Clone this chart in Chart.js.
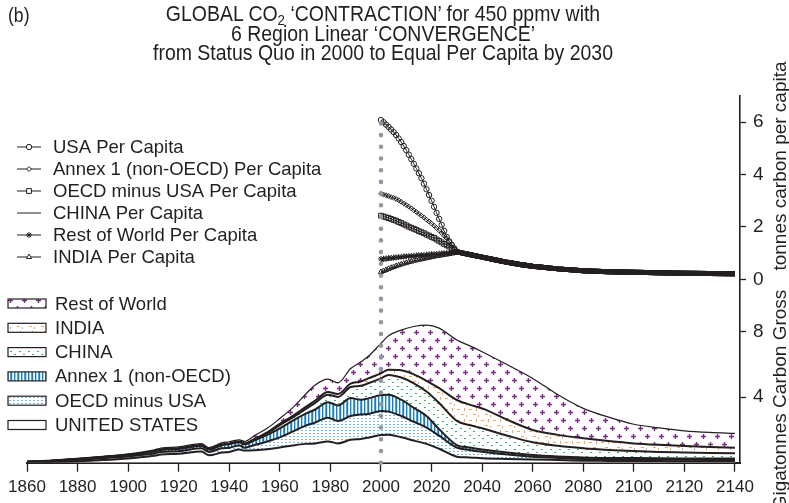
<!DOCTYPE html>
<html>
<head>
<meta charset="utf-8">
<script src="https://cdn.jsdelivr.net/npm/chart.js@4.4.1/dist/chart.umd.min.js"></script>
<style>
  body { margin: 0; background: #fff; }
  #wrap { position: relative; width: 789px; height: 503px; }
  #graphique { position: absolute; left: 0; top: 0; }
  #panel { position: absolute; left: 8px; top: 4px; color: #231f20; transform-origin: 0 0; transform: scaleX(0.88);
    font: 20px "Liberation Sans", Arial, sans-serif; }
  #title { position: absolute; left: 83px; top: 4px; width: 600px; text-align: center; color: #231f20;
    transform: scaleX(0.885); transform-origin: 300px 0;
    font: 22px/19.5px "Liberation Sans", Arial, sans-serif; }
  #title sub { font-size: 15px; line-height: 0; vertical-align: -4px; }
</style>
</head>
<body>
<div id="wrap">
  <canvas id="graphique" width="789" height="503"></canvas>
  <div id="panel">(b)</div>
  <div id="title">GLOBAL CO<sub>2</sub> ‘CONTRACTION’ for 450 ppmv with<br>6 Region Linear ‘CONVERGENCE’<br>from Status Quo in 2000 to Equal Per Capita by 2030</div>
</div>
<script>
// Données (GtC par an, bas)
const years = [1860, 1870, 1880, 1890, 1900, 1910, 1913, 1920, 1929, 1932,
  1937, 1940, 1944, 1946, 1950, 1955, 1960, 1965, 1970, 1974,
  1979, 1983, 1988, 1992, 1995, 2000, 2003, 2008, 2013, 2018,
  2023, 2030, 2035, 2040, 2050, 2060, 2070, 2080, 2090, 2100,
  2110, 2120, 2130, 2140];
const usGross = [0.02, 0.05, 0.09, 0.16, 0.26, 0.42, 0.50, 0.55, 0.68, 0.45,
  0.62, 0.66, 0.80, 0.74, 0.76, 0.82, 0.93, 1.05, 1.15, 1.18,
  1.30, 1.18, 1.40, 1.45, 1.53, 1.69, 1.71, 1.55, 1.35, 1.15,
  0.85, 0.37, 0.32, 0.27, 0.23, 0.20, 0.16, 0.12, 0.11, 0.10,
  0.10, 0.09, 0.09, 0.09];
const oecdGross = [0.03, 0.05, 0.08, 0.11, 0.12, 0.14, 0.16, 0.15, 0.20, 0.21,
  0.26, 0.26, 0.25, 0.18, 0.32, 0.48, 0.62, 0.85, 1.10, 1.27,
  1.45, 1.37, 1.45, 1.50, 1.45, 1.47, 1.41, 1.30, 1.15, 1.00,
  0.80, 0.55, 0.46, 0.40, 0.27, 0.17, 0.13, 0.11, 0.10, 0.10,
  0.09, 0.09, 0.08, 0.08];
const annex1Gross = [0.01, 0.02, 0.04, 0.06, 0.08, 0.11, 0.12, 0.14, 0.15, 0.14,
  0.18, 0.21, 0.20, 0.20, 0.28, 0.40, 0.55, 0.65, 0.73, 0.80,
  0.95, 0.95, 1.10, 0.90, 0.95, 0.97, 1.03, 1.00, 0.85, 0.70,
  0.40, 0.16, 0.15, 0.14, 0.12, 0.10, 0.09, 0.09, 0.08, 0.08,
  0.08, 0.08, 0.08, 0.08];
const chinaGross = [0.005, 0.005, 0.01, 0.01, 0.01, 0.01, 0.01, 0.01, 0.02, 0.02,
  0.02, 0.02, 0.02, 0.03, 0.06, 0.10, 0.20, 0.20, 0.27, 0.40,
  0.45, 0.52, 0.67, 0.85, 0.92, 1.02, 1.21, 1.35, 1.50, 1.50,
  1.60, 1.47, 1.37, 1.29, 1.03, 0.78, 0.65, 0.56, 0.49, 0.43,
  0.39, 0.37, 0.35, 0.32];
const indiaGross = [0.005, 0.005, 0.01, 0.01, 0.02, 0.02, 0.02, 0.03, 0.03, 0.03,
  0.03, 0.03, 0.03, 0.03, 0.04, 0.05, 0.08, 0.10, 0.13, 0.15,
  0.17, 0.18, 0.21, 0.25, 0.30, 0.31, 0.32, 0.45, 0.55, 0.65,
  0.90, 1.28, 1.25, 1.22, 0.97, 0.75, 0.67, 0.61, 0.54, 0.47,
  0.43, 0.39, 0.36, 0.35];
const rowGross = [0.01, 0.02, 0.03, 0.04, 0.05, 0.07, 0.08, 0.09, 0.09, 0.07,
  0.10, 0.10, 0.10, 0.12, 0.20, 0.25, 0.32, 0.50, 0.77, 0.95,
  0.78, 0.68, 0.92, 1.20, 1.35, 1.83, 2.07, 2.45, 2.92, 3.40,
  3.67, 3.66, 3.60, 3.46, 3.36, 3.15, 2.45, 1.83, 1.46, 1.17,
  1.04, 0.93, 0.89, 0.87];

// Par habitant (tC), 2000-2030 chaque année puis valeur commune
const pcYears = [2000, 2001, 2002, 2003, 2004, 2005, 2006, 2007, 2008, 2009,
  2010, 2011, 2012, 2013, 2014, 2015, 2016, 2017, 2018, 2019,
  2020, 2021, 2022, 2023, 2024, 2025, 2026, 2027, 2028, 2029, 2030,
  2035, 2040, 2045, 2050, 2055, 2060, 2070, 2080, 2090, 2100, 2110, 2120, 2130, 2140];
const convergedPc = [0.95, 0.85, 0.75, 0.65, 0.57, 0.50, 0.40, 0.33, 0.29, 0.27, 0.25, 0.23, 0.22, 0.21];
const usaPc = [6.08, 6.00, 5.91, 5.82, 5.72, 5.62, 5.51, 5.38, 5.24, 5.09,
  4.93, 4.76, 4.59, 4.41, 4.23, 4.05, 3.86, 3.65, 3.44, 3.22,
  3.00, 2.77, 2.54, 2.31, 2.08, 1.85, 1.62, 1.45, 1.32, 1.18, 1.05];
const annex1Pc = [3.27, 3.24, 3.21, 3.18, 3.14, 3.11, 3.07, 3.02, 2.96, 2.90,
  2.84, 2.78, 2.71, 2.64, 2.57, 2.50, 2.43, 2.36, 2.28, 2.21,
  2.13, 2.05, 1.96, 1.87, 1.77, 1.67, 1.56, 1.45, 1.33, 1.20, 1.05];
const oecdPc = [2.43, 2.40, 2.37, 2.34, 2.31, 2.27, 2.24, 2.19, 2.15, 2.10,
  2.06, 2.01, 1.97, 1.93, 1.89, 1.84, 1.80, 1.76, 1.71, 1.67,
  1.62, 1.58, 1.52, 1.47, 1.41, 1.35, 1.30, 1.25, 1.19, 1.12, 1.05];
const chinaPc = [0.68, 0.70, 0.71, 0.73, 0.74, 0.76, 0.77, 0.79, 0.80, 0.81,
  0.83, 0.84, 0.85, 0.86, 0.87, 0.89, 0.90, 0.91, 0.92, 0.93,
  0.94, 0.95, 0.96, 0.97, 0.98, 0.99, 1.00, 1.01, 1.02, 1.03, 1.05];
const rowPc = [0.78, 0.79, 0.80, 0.81, 0.82, 0.83, 0.84, 0.85, 0.86, 0.87,
  0.88, 0.88, 0.89, 0.90, 0.91, 0.92, 0.92, 0.93, 0.94, 0.95,
  0.96, 0.96, 0.97, 0.98, 0.99, 0.99, 1.00, 1.01, 1.02, 1.03, 1.05];
const indiaPc = [0.28, 0.32, 0.36, 0.40, 0.44, 0.47, 0.51, 0.54, 0.57, 0.60,
  0.63, 0.66, 0.68, 0.71, 0.73, 0.75, 0.77, 0.79, 0.81, 0.83,
  0.85, 0.87, 0.89, 0.90, 0.92, 0.94, 0.95, 0.97, 0.99, 1.02, 1.05];

const xTicks = [1860, 1880, 1900, 1920, 1940, 1960, 1980, 2000, 2020, 2040, 2060, 2080, 2100, 2120, 2140];
const pcTicks = [0, 2, 4, 6];
const grossTicks = [4, 8];
const startYear = 2000;
const convergeYear = 2030;

const ink = '#231f20';
const sans = '"Liberation Sans", Arial, sans-serif';

function makePattern(w, h, draw) {
    const c = document.createElement('canvas');
    c.width = w; c.height = h;
    const g = c.getContext('2d');
    g.fillStyle = '#fff';
    g.fillRect(0, 0, w, h);
    draw(g);
    return g.createPattern(c, 'repeat');
}

const rowFill = makePattern(14, 16, g => {
    g.strokeStyle = '#7b2a88'; g.lineWidth = 1.4;
    [[3.5, 4.5], [10.5, 12.5]].forEach(([x, y]) => {
        g.beginPath();
        g.moveTo(x - 2.5, y); g.lineTo(x + 2.5, y);
        g.moveTo(x, y - 2.5); g.lineTo(x, y + 2.5);
        g.stroke();
    });
});
const indiaFill = makePattern(12, 11, g => {
    g.fillStyle = '#f5a45a';
    g.fillRect(1, 2, 3, 1); g.fillRect(8, 1, 1, 3); g.fillRect(5, 7, 3, 1); g.fillRect(10, 8, 1, 2);
});
const chinaFill = makePattern(9, 7, g => {
    g.fillStyle = '#35b06a';
    g.fillRect(1, 1, 2, 1); g.fillRect(5, 4, 2, 1);
});
const annex1Fill = makePattern(7, 2, g => {
    ['#1b7db6', '#9fd0ee', '#ffffff', '#4fa3d4', '#1b7db6', '#c5e3f5', '#ffffff'].forEach((col, i) => {
        g.fillStyle = col; g.fillRect(i, 0, 1, 2);
    });
});
const oecdFill = makePattern(4, 3, g => {
    g.fillStyle = '#7db8e3';
    g.fillRect(1, 1, 2, 1);
});

function grossDataset(label, values, fillStyle, width, fill) {
    return {
        label: label, yAxisID: 'yBot', order: 1,
        data: years.map((yr, i) => ({ x: yr, y: values[i] })),
        borderColor: ink, borderWidth: width, backgroundColor: fillStyle,
        fill: fill, pointRadius: 0, cubicInterpolationMode: 'monotone'
    };
}

function pcDataset(label, values, style, radius) {
    const all = values.concat(convergedPc);
    return {
        label: label, yAxisID: 'yTop', order: 0, markerStyle: style, markerRadius: radius,
        data: pcYears.map((yr, i) => ({ x: yr, y: all[i] })),
        borderColor: ink, borderWidth: 1, fill: false,
        segment: { borderWidth: c => (c.p0.parsed.x >= convergeYear ? 5 : 1) },
        pointStyle: style || 'circle',
        pointRadius: c => (style && c.raw && c.raw.x <= convergeYear ? radius : 0),
        pointBorderColor: ink, pointBackgroundColor: 'rgba(255,255,255,0)', pointBorderWidth: 1
    };
}

const grossSets = [
    grossDataset('UNITED STATES', usGross, '#ffffff', 2, 'origin'),
    grossDataset('OECD minus USA', oecdGross, oecdFill, 2, '-1'),
    grossDataset('Annex 1 (non-OECD)', annex1Gross, annex1Fill, 2, '-1'),
    grossDataset('CHINA', chinaGross, chinaFill, 2, '-1'),
    grossDataset('INDIA', indiaGross, indiaFill, 2, '-1'),
    grossDataset('Rest of World', rowGross, rowFill, 1.2, '-1')
];
const pcSets = [
    pcDataset('USA Per Capita', usaPc, 'circle', 2.7),
    pcDataset('Annex 1 (non-OECD) Per Capita', annex1Pc, 'rectRot', 2.4),
    pcDataset('OECD minus USA Per Capita', oecdPc, 'rect', 3.4),
    pcDataset('CHINA Per Capita', chinaPc, null, 0),
    pcDataset('Rest of World Per Capita', rowPc, 'star', 3),
    pcDataset('INDIA Per Capita', indiaPc, 'triangle', 3)
];

const decor = {
    id: 'decor',
    afterDatasetsDraw(chart) {
        const { ctx, scales: { x, yTop } } = chart;
        const px = x.getPixelForValue(startYear);
        ctx.save();
        ctx.strokeStyle = '#8e98a2';
        ctx.lineWidth = 4.6;
        ctx.lineCap = 'round';
        ctx.setLineDash([0, 11.7]);
        ctx.beginPath();
        ctx.moveTo(px, chart.chartArea.bottom);
        ctx.lineTo(px, yTop.getPixelForValue(6.35));
        ctx.stroke();
        ctx.restore();
    },
    afterDraw(chart) {
        const ctx = chart.ctx;
        ctx.save();
        ctx.fillStyle = ink;
        ctx.textBaseline = 'middle';

        // légende du haut
        ctx.font = '18.5px ' + sans;
        pcSets.forEach((ds, i) => {
            const y = 147 + i * 22;
            ctx.strokeStyle = ink; ctx.lineWidth = 1;
            ctx.beginPath(); ctx.moveTo(17, y); ctx.lineTo(41, y); ctx.stroke();
            if (ds.markerStyle) {
                ctx.fillStyle = '#fff';
                Chart.helpers.drawPoint(ctx, { pointStyle: ds.markerStyle, radius: ds.markerRadius, borderWidth: 1, rotation: 0 }, 29, y);
            }
            ctx.fillStyle = ink;
            ctx.fillText(ds.label, 53, y + 1);
        });

        // légende du bas
        [5, 4, 3, 2, 1, 0].forEach((k, i) => {
            const ds = grossSets[k];
            const y = 303.5 + i * 24.3;
            ctx.fillStyle = '#fff';
            ctx.fillRect(8, y - 4.5, 38, 9);
            ctx.fillStyle = ds.backgroundColor;
            ctx.fillRect(8, y - 4.5, 38, 9);
            ctx.strokeStyle = ink; ctx.lineWidth = 1.2;
            ctx.strokeRect(8, y - 4.5, 38, 9);
            ctx.fillStyle = ink;
            ctx.fillText(ds.label, 55, y + 1);
        });

        // titres des axes
        ctx.font = '19px ' + sans;
        ctx.textAlign = 'center';
        [['tonnes carbon per capita', 166], ['Gigatonnes Carbon Gross', 400]].forEach(([txt, cy]) => {
            ctx.save();
            ctx.translate(781, cy);
            ctx.rotate(-Math.PI / 2);
            ctx.fillText(txt, 0, 0);
            ctx.restore();
        });
        ctx.restore();
    }
};

const ctx = document.getElementById('graphique').getContext('2d');
new Chart(ctx, {
    type: 'line',
    data: { datasets: grossSets.concat(pcSets) },
    options: {
        responsive: false,
        animation: false,
        devicePixelRatio: 1,
        layout: { padding: { top: 96, left: 27, right: 0, bottom: 0 } },
        plugins: { legend: { display: false }, tooltip: { enabled: false }, title: { display: false } },
        scales: {
            x: {
                type: 'linear', min: 1860, max: 2142,
                afterBuildTicks: s => { s.ticks = xTicks.map(v => ({ value: v })); },
                afterFit: s => { s.height = 40.3; },
                grid: { drawOnChartArea: false, tickLength: 9, tickColor: ink, tickWidth: 1.3 },
                border: { color: ink, width: 2 },
                ticks: { color: ink, padding: 5, maxRotation: 0, autoSkip: false,
                    callback: v => String(v), font: { family: sans, size: 17 } }
            },
            yTop: {
                type: 'linear', position: 'right', stack: 'panels', stackWeight: 1, weight: 1,
                min: 0, max: 7, stacked: false,
                afterBuildTicks: s => { s.ticks = pcTicks.map(v => ({ value: v })); },
                afterFit: s => { s.width = 49; },
                grid: { drawOnChartArea: false, tickLength: 6, tickColor: ink, tickWidth: 1.3 },
                border: { color: ink, width: 1.6 },
                ticks: { color: ink, padding: 7, font: { family: sans, size: 19 } }
            },
            yBot: {
                type: 'linear', position: 'right', stack: 'panels', stackWeight: 1, weight: 2,
                min: 0, max: 11.2, stacked: true,
                afterBuildTicks: s => { s.ticks = grossTicks.map(v => ({ value: v })); },
                afterFit: s => { s.width = 49; },
                grid: { drawOnChartArea: false, tickLength: 6, tickColor: ink, tickWidth: 1.3 },
                border: { color: ink, width: 1.6 },
                ticks: { color: ink, padding: 7, font: { family: sans, size: 19 } }
            }
        }
    },
    plugins: [decor]
});
</script>
</body>
</html>
